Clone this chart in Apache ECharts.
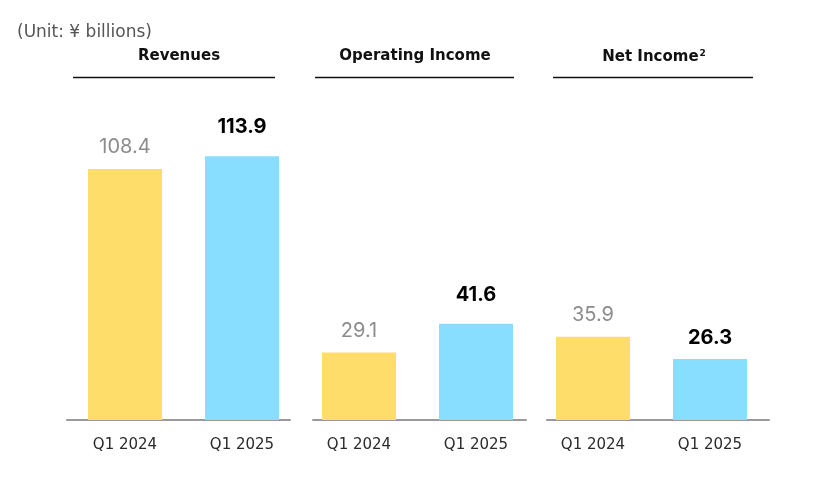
<!DOCTYPE html>
<html><head><meta charset="utf-8">
<script src="https://cdn.jsdelivr.net/npm/echarts@6/dist/echarts.min.js"></script>
<style>html,body{margin:0;padding:0;background:#fff}#c{width:820px;height:489px}</style>
</head><body><div id="c"></div>
<script>
const categories = ['Q1 2024', 'Q1 2025'];
const panelTitles = ['Revenues', 'Operating Income', 'Net Income'];
const revenues = [108.4, 113.9];
const operatingIncome = [29.1, 41.6];
const netIncome = [35.9, 26.3];
const unitText = '(Unit: ¥ billions)';

const FONT = '"DejaVu Sans", "Noto Sans", sans-serif';
const NUMFONT = 'Inter, "Noto Sans", sans-serif';
const colors = ['#FEDD6A', '#88DEFF'];
const labelDistance = [[12, 19], [12, 19], [12, 11]];
const panelData = [revenues, operatingIncome, netIncome];
const barGridLeft = [66.5, 300.5, 534.5];
const axisGrid = [[67, 290], [313, 526], [547, 769]];
const titleCenters = [179, 415, 654];
const headerLines = [[73, 275], [315, 514], [553, 753]];
const gridTop = 72.6, gridBottom = 69;

const grids = [], xAxes = [], yAxes = [], series = [];
panelData.forEach((vals, p) => {
  grids.push({left: barGridLeft[p], width: 234, top: gridTop, bottom: gridBottom});
  xAxes.push({type: 'category', gridIndex: p, data: categories,
    axisLine: {show: false}, axisTick: {show: false},
    axisLabel: {margin: 18, fontFamily: FONT, fontSize: 15, color: '#2b2b2b'}});
  yAxes.push({type: 'value', gridIndex: p, min: 0, max: 150, show: false, splitLine: {show: false}});
  series.push({type: 'bar', xAxisIndex: p, yAxisIndex: p, barWidth: 74,
    data: vals.map((v, i) => ({
      value: v,
      itemStyle: {color: colors[i]},
      label: {show: true, position: 'top', distance: labelDistance[p][i], fontFamily: NUMFONT, fontSize: 20,
        color: i === 0 ? '#8c8c8c' : '#000', fontWeight: i === 0 ? 'normal' : 'bold',
        formatter: (d) => d.value.toFixed(1)}
    }))});
});
axisGrid.forEach((g, k) => {
  const gi = 3 + k;
  grids.push({left: g[0], width: g[1] - g[0], top: gridTop, bottom: gridBottom});
  xAxes.push({type: 'category', gridIndex: gi, data: [''],
    axisLine: {show: true, lineStyle: {color: '#9a9a9a', width: 2}},
    axisTick: {show: false}, axisLabel: {show: false}});
  yAxes.push({type: 'value', gridIndex: gi, min: 0, max: 150, show: false, splitLine: {show: false}});
});

const titles = [{text: unitText, left: 17, top: 24, padding: 0,
  textStyle: {fontFamily: FONT, fontSize: 17, fontWeight: 'normal', color: '#555'}}];
panelTitles.forEach((t, p) => {
  titles.push({
    text: p === 2 ? '{a|' + t + '}{s|2}' : '{a|' + t + '}',
    left: titleCenters[p], top: 49, textAlign: 'center', padding: 0,
    textStyle: {rich: {
      a: {fontFamily: FONT, fontSize: 15, fontWeight: 'bold', color: '#111'},
      s: {fontFamily: FONT, fontSize: 9, fontWeight: 'bold', color: '#111', verticalAlign: 'top', padding: [0, 0, 8, 1]}
    }}
  });
});

const chart = echarts.init(document.getElementById('c'), null, {renderer: 'canvas'});
chart.setOption({
  animation: false,
  title: titles,
  grid: grids, xAxis: xAxes, yAxis: yAxes, series: series,
  graphic: headerLines.map(l => ({type: 'line', shape: {x1: l[0], y1: 77.5, x2: l[1], y2: 77.5},
    style: {stroke: '#111', lineWidth: 1.3}}))
});
</script></body></html>
